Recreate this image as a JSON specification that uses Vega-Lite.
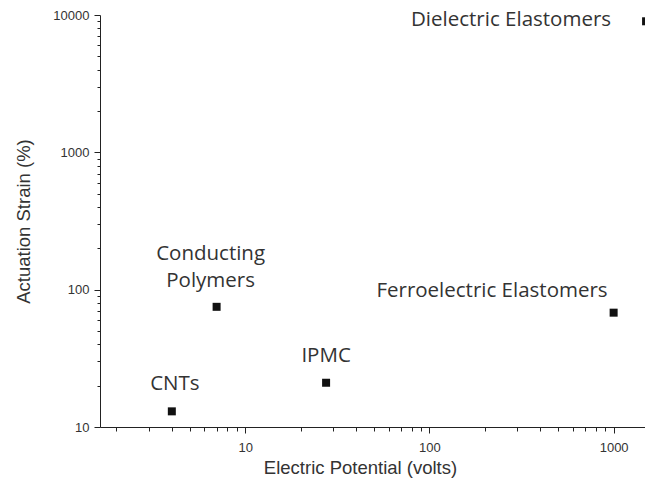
{
  "$schema": "https://vega.github.io/schema/vega-lite/v6.json",
  "width": 545,
  "height": 412,
  "autosize": "none",
  "padding": {"left": 100, "top": 15, "right": 0, "bottom": 67},
  "background": "white",
  "config": {
    "view": {"stroke": null},
    "axis": {
      "grid": false,
      "domainColor": "#222",
      "tickColor": "#222",
      "labelColor": "#333",
      "titleColor": "#333",
      "labelFont": "Liberation Sans",
      "titleFont": "Liberation Sans",
      "labelFontSize": 13,
      "titleFontSize": 18.5,
      "titleFontWeight": "normal"
    }
  },
  "data": {
    "values": [
      {"material": "CNTs", "voltage": 4, "strain": 13},
      {"material": "Conducting Polymers", "voltage": 7, "strain": 75},
      {"material": "IPMC", "voltage": 27.5, "strain": 21},
      {"material": "Ferroelectric Elastomers", "voltage": 1000, "strain": 68},
      {"material": "Dielectric Elastomers", "voltage": 1500, "strain": 9000}
    ]
  },
  "resolve": {"axis": {"x": "independent", "y": "independent"}},
  "layer": [
    {
      "mark": {"type": "point", "opacity": 0},
      "encoding": {
        "x": {
          "field": "voltage", "type": "quantitative",
          "scale": {"type": "log", "domain": [1.63, 1480], "nice": false},
          "axis": {"orient": "bottom", "values": [2,3,4,5,6,7,8,9,20,30,40,50,60,70,80,90,200,300,400,500,600,700,800,900], "labels": false, "domain": false, "tickSize": 4, "title": null}
        },
        "y": {
          "field": "strain", "type": "quantitative",
          "scale": {"type": "log", "domain": [10, 10000], "nice": false},
          "axis": {"orient": "left", "values": [20,30,40,50,60,70,80,90,200,300,400,500,600,700,800,900,2000,3000,4000,5000,6000,7000,8000,9000], "labels": false, "domain": false, "tickSize": 3, "title": null}
        }
      }
    },
    {
      "mark": {"type": "square", "size": 64, "color": "#111", "opacity": 1},
      "encoding": {
        "x": {
          "field": "voltage", "type": "quantitative",
          "scale": {"type": "log", "domain": [1.63, 1480], "nice": false},
          "axis": {"orient": "bottom", "values": [10, 100, 1000], "format": "d", "tickSize": 6, "labelPadding": 8, "title": "Electric Potential (volts)", "titlePadding": 4, "titleX": 260}
        },
        "y": {
          "field": "strain", "type": "quantitative",
          "scale": {"type": "log", "domain": [10, 10000], "nice": false},
          "axis": {"orient": "left", "values": [10, 100, 1000, 10000], "format": "d", "tickSize": 6, "labelPadding": 5, "title": "Actuation Strain (%)", "titlePadding": 19}
        }
      }
    },
    {
      "transform": [{"filter": "datum.material === 'Dielectric Elastomers'"}],
      "mark": {"type": "text", "font": "Open Sans", "fontSize": 20.5, "color": "#333", "align": "right", "baseline": "middle", "dx": -35, "dy": -1},
      "encoding": {
        "x": {"field": "voltage", "type": "quantitative", "axis": null},
        "y": {"field": "strain", "type": "quantitative", "axis": null},
        "text": {"field": "material"}
      }
    },
    {
      "transform": [{"filter": "datum.material === 'Ferroelectric Elastomers'"}],
      "mark": {"type": "text", "font": "Open Sans", "fontSize": 20.5, "color": "#333", "align": "right", "baseline": "middle", "dx": -6, "dy": -22},
      "encoding": {
        "x": {"field": "voltage", "type": "quantitative", "axis": null},
        "y": {"field": "strain", "type": "quantitative", "axis": null},
        "text": {"field": "material"}
      }
    },
    {
      "transform": [{"filter": "datum.material === 'Conducting Polymers'"}],
      "mark": {"type": "text", "font": "Open Sans", "fontSize": 20.5, "color": "#333", "align": "center", "baseline": "middle", "dx": -6, "dy": -53, "lineBreak": " ", "lineHeight": 27},
      "encoding": {
        "x": {"field": "voltage", "type": "quantitative", "axis": null},
        "y": {"field": "strain", "type": "quantitative", "axis": null},
        "text": {"field": "material"}
      }
    },
    {
      "transform": [{"filter": "datum.material === 'IPMC'"}],
      "mark": {"type": "text", "font": "Open Sans", "fontSize": 20.5, "color": "#333", "align": "center", "baseline": "middle", "dx": 0, "dy": -27},
      "encoding": {
        "x": {"field": "voltage", "type": "quantitative", "axis": null},
        "y": {"field": "strain", "type": "quantitative", "axis": null},
        "text": {"field": "material"}
      }
    },
    {
      "transform": [{"filter": "datum.material === 'CNTs'"}],
      "mark": {"type": "text", "font": "Open Sans", "fontSize": 20.5, "color": "#333", "align": "center", "baseline": "middle", "dx": 3, "dy": -27},
      "encoding": {
        "x": {"field": "voltage", "type": "quantitative", "axis": null},
        "y": {"field": "strain", "type": "quantitative", "axis": null},
        "text": {"field": "material"}
      }
    }
  ]
}
